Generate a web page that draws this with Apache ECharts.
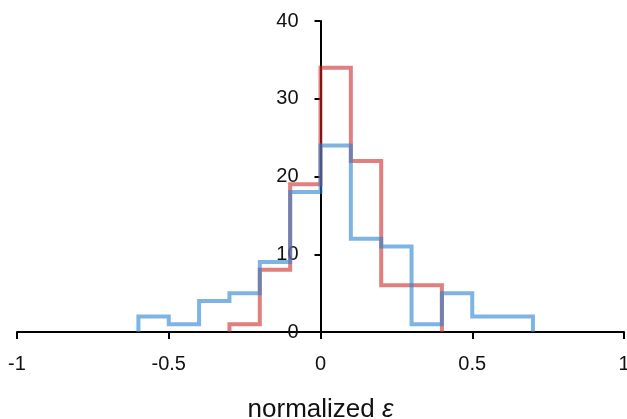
<!DOCTYPE html>
<html>
<head>
<meta charset="utf-8">
<script src="https://cdn.jsdelivr.net/npm/echarts@6/dist/echarts.min.js"></script>
<style>html,body{margin:0;padding:0;background:#fff;}#c{width:627px;height:419px;}</style>
</head>
<body>
<div id="c"></div>
<script>
// Histogram bins (left edges, width 0.1)
const redEdges = [-0.3, -0.2, -0.1, 0.0, 0.1, 0.2, 0.3, 0.4];
const redCounts = [1, 8, 19, 34, 22, 6, 6];
const blueEdges = [-0.6, -0.5, -0.4, -0.3, -0.2, -0.1, 0.0, 0.1, 0.2, 0.3, 0.4, 0.5, 0.6, 0.7];
const blueCounts = [2, 1, 4, 5, 9, 18, 24, 12, 11, 1, 5, 2, 2];
const xTicks = [-1, -0.5, 0, 0.5, 1];
const yTicks = [0, 10, 20, 30, 40];

function stepPoints(edges, counts) {
  const pts = [[edges[0], 0]];
  for (let i = 0; i < counts.length; i++) pts.push([edges[i], counts[i]]);
  pts.push([edges[edges.length - 1], 0]);
  return pts;
}

const W = 627, gridLeft = 17, gridRight = 3;
const plotW = W - gridLeft - gridRight;
const xMin = xTicks[0], xMax = xTicks[xTicks.length - 1];
const zeroOffset = -plotW * (0 - xMin) / (xMax - xMin);

const chart = echarts.init(document.getElementById('c'), null, {renderer: 'canvas'});
const font = '"Liberation Sans", "DejaVu Sans", sans-serif';
chart.setOption({
  animation: false,
  grid: {left: gridLeft, right: gridRight, top: 21, bottom: 87, containLabel: false, outerBoundsMode: 'none'},
  xAxis: {
    type: 'value', min: xMin, max: xMax, interval: 0.5,
    axisLine: {onZero: false, lineStyle: {color: '#000', width: 2}},
    axisTick: {show: true, length: 7, inside: false, lineStyle: {color: '#000', width: 2}},
    splitLine: {show: false},
    axisLabel: {color: '#111', fontSize: 20, fontFamily: font, margin: 22,
      formatter: v => String(v)},
    name: 'normalized {i|ε}',
    nameLocation: 'middle', nameGap: 65,
    nameTextStyle: {color: '#111', fontSize: 26, fontFamily: font,
      rich: {i: {fontStyle: 'italic', fontSize: 26, fontFamily: font, color: '#111'}}}
  },
  yAxis: {
    type: 'value', min: yTicks[0], max: yTicks[yTicks.length - 1], interval: 10,
    position: 'left', offset: zeroOffset,
    axisLine: {show: true, onZero: false, lineStyle: {color: '#000', width: 2}},
    axisTick: {show: true, length: 6, inside: false, lineStyle: {color: '#000', width: 2}},
    splitLine: {show: false},
    axisLabel: {color: '#111', fontSize: 20, fontFamily: font, margin: 22}
  },
  series: [
    {type: 'line', step: 'end', data: stepPoints(redEdges, redCounts), symbol: 'none',
      lineStyle: {color: 'rgba(205,40,40,0.6)', width: 4, join: 'miter', cap: 'butt'}, z: 3},
    {type: 'line', step: 'end', data: stepPoints(blueEdges, blueCounts), symbol: 'none',
      lineStyle: {color: 'rgba(40,130,210,0.6)', width: 4, join: 'miter', cap: 'butt'}, z: 4}
  ]
});
</script>
</body>
</html>
